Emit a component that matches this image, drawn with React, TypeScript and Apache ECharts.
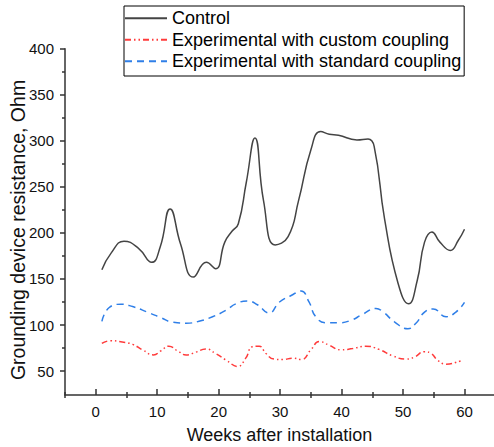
import React, { useEffect, useRef } from "react";
import * as echarts from "echarts";

const controlWeeks = [1, 2.5, 4.6, 7, 9.1, 10.5, 12.1, 13.8, 15.9, 18, 19.5, 21, 22.2, 23.2, 24.5, 25.9, 27.3, 29.2, 31.3, 33, 35, 36.6, 38, 39.5, 42.5, 44.3, 45.3, 47, 49.2, 50.9, 52.3, 53.5, 54.7, 56, 57.7, 59, 60];
const controlValues = [160, 178, 191, 183, 168, 185, 226, 188, 152, 168, 161, 190, 202, 210, 255, 303, 235, 187, 196, 235, 290, 310, 307, 306, 301, 302, 294, 215, 145, 123, 148, 190, 201, 190, 181, 192, 204];

const customWeeks = [1, 2.4, 4.3, 6, 7.6, 9.4, 10.6, 11.9, 13.3, 14.7, 16.3, 17.9, 19.5, 21.2, 23.1, 24.4, 25.5, 26.6, 27.7, 29, 30.5, 32, 33.5, 35, 36.4, 38, 39.9, 41.8, 43.9, 46.1, 48.3, 50.5, 51.8, 53.5, 54.6, 55.6, 57, 59.4, 59.8];
const customValues = [80, 83, 81.5, 79, 73, 67.5, 72, 77, 72, 67.5, 70.5, 74, 69, 62, 55, 64, 76.5, 77, 69, 63, 62.5, 64, 62.5, 73, 82, 78, 73, 74.5, 77, 73.5, 66.5, 63, 65, 71, 69, 62, 57.5, 61, 62];

const standardWeeks = [1, 2.2, 4.1, 6, 8.4, 10.6, 12.5, 14.7, 16.8, 19, 21.2, 22.8, 24.7, 26.3, 28.2, 29.9, 31.8, 33.4, 34.7, 35.8, 37.5, 39.6, 41.5, 43.4, 45.6, 46.7, 48.6, 50.8, 52.1, 53.5, 54.9, 57, 58.6, 60];
const standardValues = [104, 119, 122.5, 120, 114, 108, 103, 102, 104, 109, 116, 123, 126, 122, 113, 125, 132, 137, 125, 109, 102.5, 102.5, 105, 111.5, 118, 114.5, 103.5, 96, 102, 114, 117.5, 109, 114, 124.5];

const xLabelValues = [0, 10, 20, 30, 40, 50, 60];
const xMinorTicks = [-5, 5, 15, 25, 35, 45, 55];
const yLabelValues = [50, 100, 150, 200, 250, 300, 350, 400];
const yMinorTicks = [75, 125, 175, 225, 275, 325, 375];

const seriesNames = ["Control", "Experimental with custom coupling", "Experimental with standard coupling"];
const yTitle = "Grounding device resistance, Ohm";
const xTitle = "Weeks after installation";

const FONT = "'Liberation Sans', Arial, sans-serif";

function pairs(xs: number[], ys: number[]) {
  return xs.map((x, i) => [x, ys[i]]);
}

export default function App() {
  const ref = useRef<HTMLDivElement>(null);
  useEffect(() => {
    if (!ref.current) return;
    const chart = echarts.init(ref.current, null, { renderer: "svg" });
    const axisColor = "#333";
    const xBase = { type: "value", min: -5, max: 64.8, splitLine: { show: false } };
    const yBase = { type: "value", min: 24, max: 400, splitLine: { show: false } };
    chart.setOption({
      animation: false,
      backgroundColor: "#fff",
      textStyle: { fontFamily: FONT },
      grid: { left: 65, right: 0, top: 48.7, bottom: 52, containLabel: false, outerBoundsMode: "none" },
      legend: {
        data: seriesNames,
        orient: "vertical",
        left: 124,
        top: 6,
        itemWidth: 42,
        itemHeight: 14,
        itemGap: 3.5,
        padding: [3.3, 3, 5.7, 0],
        borderColor: "#000",
        borderWidth: 1,
        itemStyle: { opacity: 0, borderWidth: 0 },
        textStyle: { fontSize: 18, color: "#000", lineHeight: 18, fontFamily: FONT },
      },
      graphic: [
        {
          type: "text",
          x: 17.5,
          y: 230,
          rotation: Math.PI / 2,
          style: {
            text: yTitle,
            fontSize: 19.5,
            fontFamily: FONT,
            fill: "#111",
            align: "center",
            verticalAlign: "middle",
          },
        },
      ],
      xAxis: [
        {
          ...xBase,
          position: "bottom",
          name: xTitle,
          nameLocation: "middle",
          nameGap: 31,
          nameTextStyle: { fontSize: 18, color: "#111", fontFamily: FONT },
          axisLine: { show: true, onZero: false, lineStyle: { color: axisColor, width: 1.5 } },
          axisTick: { show: true, inside: true, length: 6, customValues: xLabelValues, lineStyle: { color: axisColor, width: 1.5 } },
          axisLabel: { show: true, customValues: xLabelValues, fontSize: 15, color: "#111", margin: 9, fontFamily: FONT },
        },
        {
          ...xBase,
          position: "bottom",
          axisLine: { show: false, onZero: false },
          axisTick: { show: true, inside: true, length: 3, customValues: xMinorTicks, lineStyle: { color: axisColor, width: 1.5 } },
          axisLabel: { show: false },
        },
        {
          ...xBase,
          position: "bottom",
          axisLine: { show: false, onZero: false },
          axisTick: { show: true, inside: false, length: 3, customValues: xMinorTicks, lineStyle: { color: axisColor, width: 1.5 } },
          axisLabel: { show: false },
        },
      ],
      yAxis: [
        {
          ...yBase,
          position: "left",
          axisLine: { show: true, onZero: false, lineStyle: { color: axisColor, width: 1.5 } },
          axisTick: { show: true, inside: false, length: 5, customValues: yLabelValues, lineStyle: { color: axisColor, width: 1.5 } },
          axisLabel: { show: true, customValues: yLabelValues, fontSize: 15, color: "#111", margin: 11, fontFamily: FONT },
        },
        {
          ...yBase,
          position: "left",
          offset: 0,
          axisLine: { show: false, onZero: false },
          axisTick: { show: true, inside: false, length: 3, customValues: yMinorTicks, lineStyle: { color: axisColor, width: 1.5 } },
          axisLabel: { show: false },
        },
      ],
      series: [
        {
          name: seriesNames[0],
          type: "line",
          smooth: 0.5,
          symbol: "none",
          showSymbol: false,
          data: pairs(controlWeeks, controlValues),
          lineStyle: { color: "#444", width: 1.5, type: "solid" },
          itemStyle: { color: "#444" },
        },
        {
          name: seriesNames[1],
          type: "line",
          smooth: 0.5,
          symbol: "none",
          showSymbol: false,
          data: pairs(customWeeks, customValues),
          lineStyle: { color: "#ff3b3b", width: 1.5, type: [6, 3, 1.5, 3, 1.5, 3] },
          itemStyle: { color: "#ff3b3b" },
        },
        {
          name: seriesNames[2],
          type: "line",
          smooth: 0.5,
          symbol: "none",
          showSymbol: false,
          data: pairs(standardWeeks, standardValues),
          lineStyle: { color: "#2f7fe8", width: 1.5, type: [7, 5] },
          itemStyle: { color: "#2f7fe8" },
        },
      ],
    });
    return () => chart.dispose();
  }, []);
  return <div ref={ref} style={{ position: "fixed", left: 0, top: 0, width: 494, height: 447 }} />;
}
